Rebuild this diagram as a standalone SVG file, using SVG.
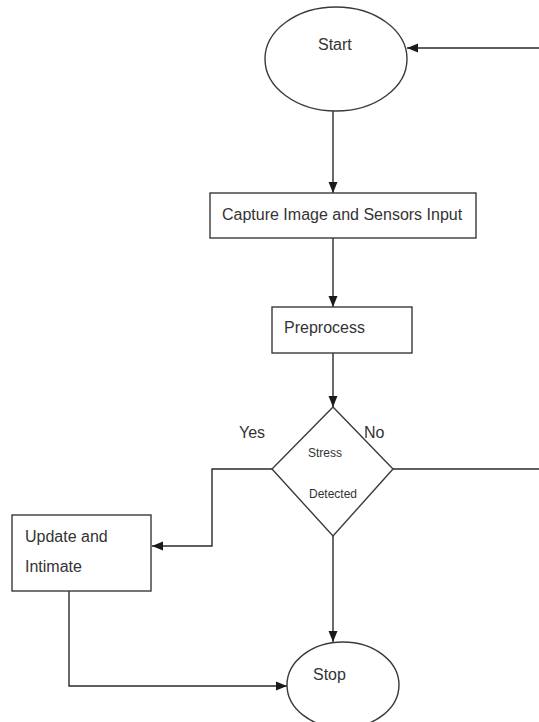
<svg xmlns="http://www.w3.org/2000/svg" width="539" height="722" viewBox="0 0 539 722">
<defs>
<style>
.shape{fill:#fff;stroke:#3a3a3a;stroke-width:1.4}
.conn{fill:none;stroke:#2a2a2a;stroke-width:1.4}
.t{font-family:"Liberation Sans",Arial,sans-serif;font-size:16px;fill:#333}
.s{font-size:12px}
</style>
<marker id="arr" markerUnits="userSpaceOnUse" markerWidth="12" markerHeight="12" viewBox="0 0 12 12" refX="11" refY="6" orient="auto">
<path d="M0,1.5 L11,6 L0,10.5 Z" fill="#1a1a1a"/>
</marker>
</defs>
<rect width="539" height="722" fill="#fff"/>
<g id="connectors">
<path class="conn" d="M333 111 V193" marker-end="url(#arr)"/>
<path class="conn" d="M333 238 V307" marker-end="url(#arr)"/>
<path class="conn" d="M333 353 V407" marker-end="url(#arr)"/>
<path class="conn" d="M272 469 H212 V546 H152" marker-end="url(#arr)"/>
<path class="conn" d="M393 469 H539"/>
<path class="conn" d="M539 48 H407" marker-end="url(#arr)"/>
<path class="conn" d="M333 536 V642" marker-end="url(#arr)"/>
<path class="conn" d="M69 591 V686 H287" marker-end="url(#arr)"/>
</g>
<g id="start">
<ellipse class="shape" cx="336" cy="59" rx="71" ry="52"/>
<text class="t" x="318" y="50">Start</text>
</g>
<g id="capture">
<rect class="shape" x="210" y="193" width="266" height="45"/>
<text class="t" x="222" y="220">Capture Image and Sensors Input</text>
</g>
<g id="preprocess">
<rect class="shape" x="272" y="307" width="140" height="46"/>
<text class="t" x="284" y="333">Preprocess</text>
</g>
<g id="decision">
<path class="shape" d="M333 407 L393 469 L333 536 L272 469 Z"/>
<text class="t s" x="308" y="457">Stress</text>
<text class="t s" x="309" y="498">Detected</text>
<text class="t" x="239" y="438">Yes</text>
<text class="t" x="364" y="438">No</text>
</g>
<g id="update">
<rect class="shape" x="12" y="515" width="139" height="76"/>
<text class="t" x="25" y="542">Update and</text>
<text class="t" x="25" y="572">Intimate</text>
</g>
<g id="stop">
<ellipse class="shape" cx="343" cy="685" rx="56" ry="43"/>
<text class="t" x="313" y="680">Stop</text>
</g>
</svg>
